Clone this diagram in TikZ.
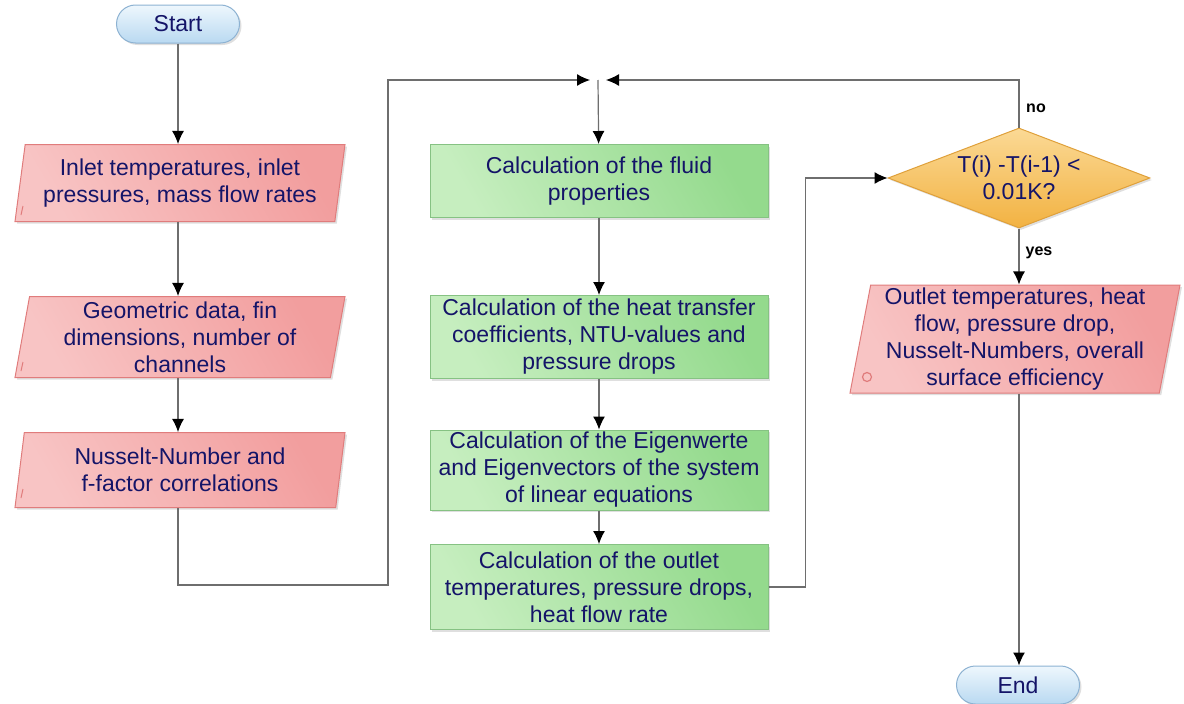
\documentclass[tikz,border=0pt]{standalone}
\usepackage{fontspec}
\setmainfont{Liberation Sans}
\usetikzlibrary{arrows.meta}
\usetikzlibrary{positioning}
\usetikzlibrary{shapes.geometric}
\usetikzlibrary{shadows}
\definecolor{txtblue}{HTML}{141468}
\definecolor{linegray}{HTML}{6E6E6E}
\definecolor{redA}{HTML}{F8C4C4}
\definecolor{redB}{HTML}{F29E9E}
\definecolor{redE}{HTML}{E07C7C}
\definecolor{grnA}{HTML}{C6EEBF}
\definecolor{grnB}{HTML}{94DA8D}
\definecolor{grnE}{HTML}{86C283}
\definecolor{orgA}{HTML}{FBD995}
\definecolor{orgB}{HTML}{F2B242}
\definecolor{orgE}{HTML}{DFA03A}
\definecolor{bluA}{HTML}{EEF7FD}
\definecolor{bluB}{HTML}{B9D9F1}
\definecolor{bluE}{HTML}{8DB2D2}
\tikzstyle{base}=[font={\fontsize{23}{27}\selectfont}, text=txtblue, align=center,
  drop shadow={opacity=0.25, shadow xshift=2pt, shadow yshift=-2pt}]
\tikzstyle{term}=[base, rectangle, rounded corners=19pt, draw=bluE, line width=1pt,
  top color=bluA, bottom color=bluB, minimum width=123pt, minimum height=38pt]
\tikzstyle{io}=[base, trapezium, trapezium left angle=79, trapezium right angle=101,
  trapezium stretches body, draw=redE, line width=1pt,
  left color=redA, right color=redB, shading angle=120, minimum width=330pt, inner sep=2pt]
\tikzstyle{proc}=[base, rectangle, draw=grnE, line width=1pt,
  left color=grnA, right color=grnB, shading angle=120, minimum width=338pt, inner sep=2pt]
\tikzstyle{dec}=[base, diamond, draw=orgE, line width=1pt, aspect=2.6,
  top color=orgA, bottom color=orgB, minimum width=262pt, minimum height=100pt, inner sep=0pt]
\tikzstyle{lbl}=[font={\fontsize{16}{18}\selectfont\bfseries}, text=black]
\tikzstyle{flow}=[draw=linegray, line width=1.2pt, -{Latex[length=13pt,width=12pt,color=black]}]

\begin{document}
\begin{tikzpicture}[x=1pt,y=-1pt]
  \useasboundingbox (0,0) rectangle (1184,704);

    % left column
    \node [term] (start) at (178,24) {Start};
    \node [io, minimum height=77pt] (inlet) at (180,183) {Inlet temperatures, inlet\\pressures, mass flow rates};
    \node [io, minimum height=81pt] (geo) at (180,337) {Geometric data, fin\\dimensions, number of\\channels};
    \node [io, minimum height=75pt] (nus) at (180,470) {Nusselt-Number and\\f-factor correlations};

    % middle column
    \node [proc, minimum height=73pt] (fluid) at (599,181) {Calculation of the fluid\\properties};
    \node [proc, minimum height=83pt] (htc) at (599,337) {Calculation of the heat transfer\\coefficients, NTU-values and\\pressure drops};
    \node [proc, minimum height=80pt] (eig) at (599,470) {Calculation of the Eigenwerte\\and Eigenvectors of the system\\of linear equations};
    \node [proc, minimum height=85pt] (outcalc) at (599,587) {Calculation of the outlet\\temperatures, pressure drops,\\heat flow rate};

    % right column
    \node [dec] (check) at (1019,178) {T(i) -T(i-1) <\\0.01K?};
    \node [io, minimum height=108pt] (result) at (1015,339) {Outlet temperatures, heat\\flow, pressure drop,\\Nusselt-Numbers, overall\\surface efficiency};
    \node [term] (end) at (1018,685) {End};

    % small marks on the input boxes
    \draw [redE, line width=1pt] (21,215) -- (23,206);
    \draw [redE, line width=1pt] (21,371) -- (23,362);
    \draw [redE, line width=1pt] (21,498) -- (23,489);
    \draw [redE, line width=1.2pt] (867,377) circle (4.5pt);

    \coordinate (merge) at (598,80);
    \coordinate (mergeL) at (590,80);
    \coordinate (mergeR) at (606,80);
    \coordinate (loopA) at (388,585);

    \draw[flow] (start) -- (start |- inlet.north);
    \draw[flow] (inlet.south -| start) -- (start |- geo.north);
    \draw[flow] (geo.south -| start) -- (start |- nus.north);
    \draw[flow] (nus.south -| start) |- (loopA) |- (mergeL);
    \draw[flow] (check.north) |- (mergeR);
    \draw[flow] (merge) -- (fluid);
    \draw[flow] (fluid) -- (htc);
    \draw[flow] (htc) -- (eig);
    \draw[flow] (eig) -- (outcalc);
    \draw[flow] (outcalc.east) -- ++(37,0) |- (check.west);
    \draw[flow] (check.south) -- (check.south |- result.north);
    \draw[flow] (result.south -| check) -- (end.north -| check);

    \node [lbl] (no) at (1036,108) {no};
    \node [lbl] (yes) at (1039,253) {yes};
\end{tikzpicture}
\end{document}
